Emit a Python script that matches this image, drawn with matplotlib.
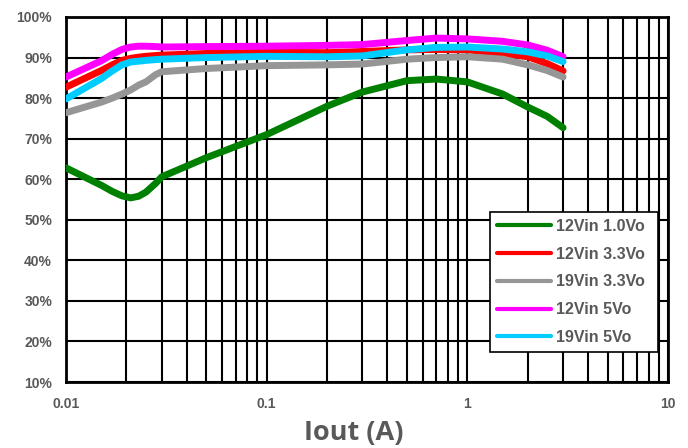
import matplotlib.pyplot as plt
from matplotlib.ticker import FixedLocator, LogLocator, NullFormatter

# load current (A)
iout = [0.01, 0.015, 0.017, 0.019, 0.021, 0.023, 0.025, 0.028, 0.03, 0.05, 0.1, 0.2, 0.3, 0.5, 0.7, 1.0, 1.5, 2.0, 2.5, 3.0]

# efficiency (%)
eff_12v_1v0 = [62.8, 58.5, 57.0, 55.9, 55.4, 55.8, 56.8, 59.0, 60.6, 65.3, 71.0, 78.0, 81.5, 84.3, 84.7, 84.0, 81.0, 77.8, 75.5, 72.7]
eff_12v_3v3 = [82.7, 86.8, 88.2, 89.3, 89.8, 90.1, 90.3, 90.5, 90.6, 91.0, 91.3, 91.2, 91.5, 91.9, 92.0, 91.9, 91.0, 90.2, 88.5, 86.7]
eff_19v_3v3 = [76.4, 79.0, 80.0, 81.0, 82.0, 83.2, 84.0, 85.8, 86.5, 87.3, 88.0, 88.2, 88.4, 89.6, 90.0, 90.2, 89.6, 88.2, 86.8, 85.2]
eff_12v_5v = [85.2, 89.2, 90.8, 92.0, 92.6, 92.8, 92.8, 92.7, 92.6, 92.7, 92.8, 93.0, 93.2, 94.2, 94.8, 94.6, 94.0, 93.1, 91.8, 90.2]
eff_19v_5v = [79.8, 84.8, 86.7, 88.2, 88.9, 89.1, 89.3, 89.5, 89.6, 90.0, 90.3, 90.2, 90.4, 91.9, 92.5, 92.6, 92.1, 91.4, 90.4, 89.0]

series = [
    ("12Vin 1.0Vo", eff_12v_1v0, "#008000"),
    ("12Vin 3.3Vo", eff_12v_3v3, "#FF0000"),
    ("19Vin 3.3Vo", eff_19v_3v3, "#969696"),
    ("12Vin 5Vo", eff_12v_5v, "#FF00FF"),
    ("19Vin 5Vo", eff_19v_5v, "#00CCFF"),
]

txt = "#595959"
plt.rcParams['font.family'] = ['Liberation Sans', 'DejaVu Sans']

fig = plt.figure(figsize=(6.88, 4.48), dpi=100)
ax = fig.add_axes([66/688, 1 - 382/448, 602/688, 365/448])

for name, vals, col in series:
    ax.plot(iout, vals, color=col, lw=5, label=name, solid_capstyle='round', solid_joinstyle='round', zorder=3)

ax.set_xscale('log')
ax.set_xlim(0.01, 10)
ax.set_ylim(10, 100)
ax.xaxis.set_major_locator(FixedLocator([0.01, 0.1, 1, 10]))
ax.xaxis.set_minor_locator(LogLocator(base=10, subs=range(2, 10)))
ax.xaxis.set_minor_formatter(NullFormatter())
ax.set_xticks([0.01, 0.1, 1, 10])
ax.set_xticklabels(['0.01', '0.1', '1', '10'])
ax.set_yticks(range(10, 101, 10))
ax.set_yticklabels([f'{v}%' for v in range(10, 101, 10)])

ax.grid(True, which='both', axis='x', color='black', lw=1.5)
ax.grid(True, which='major', axis='y', color='black', lw=1.5)
ax.tick_params(which='both', length=0, labelsize=10, labelcolor=txt)
ax.tick_params(axis='y', pad=10)
ax.tick_params(axis='x', pad=11)
for lab in ax.get_xticklabels() + ax.get_yticklabels():
    lab.set_fontweight('bold')
for s in ax.spines.values():
    s.set_color('black')
    s.set_linewidth(2)

ax.set_xlabel('Iout (A)', fontsize=19.5, fontweight='bold', color=txt, family='Open Sans')
ax.xaxis.set_label_coords((354 - 66) / 602, (382 - 440) / 365)
ax.xaxis.label.set_va('baseline')

leg = ax.legend(loc='lower left', bbox_to_anchor=(0.704, 0.082, 0.279, 0.375), mode='expand',
                frameon=True, fancybox=False, edgecolor='black', framealpha=1,
                prop={'weight': 'bold', 'size': 11.5}, labelcolor=txt,
                handlelength=3.4, handletextpad=0.3, labelspacing=0.8, borderaxespad=0,
                borderpad=0.45)
leg.get_frame().set_linewidth(1.2)
leg.set_zorder(5)
for h in leg.get_lines():
    h.set_linewidth(3)

fig.savefig('out.png', dpi=100)
